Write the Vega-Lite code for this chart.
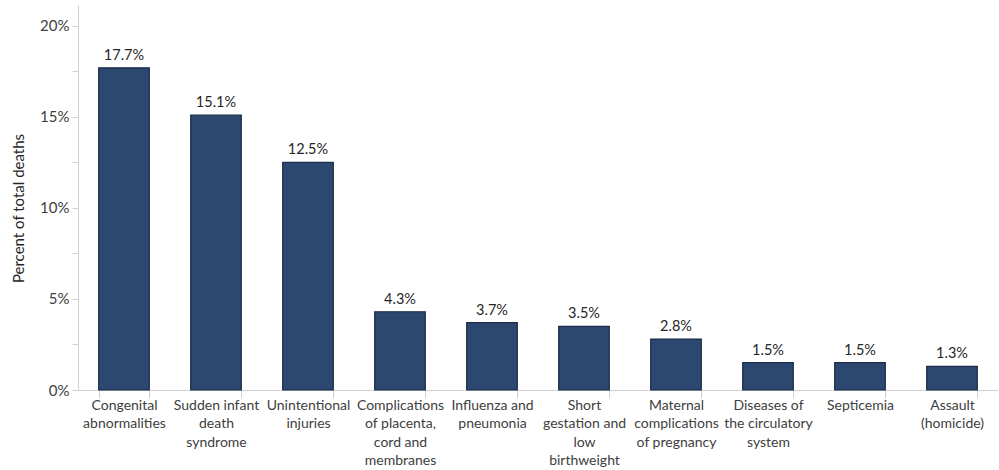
{
  "$schema": "https://vega.github.io/schema/vega-lite/v6.json",
  "autosize": "none",
  "width": 920,
  "height": 385,
  "padding": {"left": 78, "top": 5, "right": 1, "bottom": 80},
  "background": "white",
  "config": {
    "view": {"stroke": null},
    "font": "Lato",
    "axis": {"labelFont": "Lato", "titleFont": "Lato", "labelColor": "#404040", "titleColor": "#262626", "grid": false}
  },
  "data": {
    "values": [
      {"cause": "Congenital|abnormalities", "pct": 0.177},
      {"cause": "Sudden infant|death|syndrome", "pct": 0.151},
      {"cause": "Unintentional|injuries", "pct": 0.125},
      {"cause": "Complications|of placenta,|cord and|membranes", "pct": 0.043},
      {"cause": "Influenza and|pneumonia", "pct": 0.037},
      {"cause": "Short|gestation and|low|birthweight", "pct": 0.035},
      {"cause": "Maternal|complications|of pregnancy", "pct": 0.028},
      {"cause": "Diseases of|the circulatory|system", "pct": 0.015},
      {"cause": "Septicemia", "pct": 0.015},
      {"cause": "Assault|(homicide)", "pct": 0.013}
    ]
  },
  "encoding": {
    "x": {
      "field": "cause",
      "type": "nominal",
      "sort": null,
      "scale": {"paddingInner": 0.45, "paddingOuter": 0.225},
      "axis": {
        "title": null,
        "labelAngle": 0,
        "labelExpr": "isString(datum.value) ? split(datum.value, '|') : ''",
        "labelFontSize": 14,
        "labelLineHeight": 18.5,
        "labelPadding": 0,
        "labelBaseline": "top",
        "tickBand": "extent",
        "tickSize": 8,
        "tickColor": "#d0d0d0",
        "domainColor": "#d0d0d0",
        "labelLimit": 200
      }
    },
    "y": {
      "field": "pct",
      "type": "quantitative",
      "scale": {"domain": [0, 0.2115], "nice": false},
      "axis": {
        "title": "Percent of total deaths",
        "titleFontSize": 15,
        "titleFontWeight": "normal",
        "titleAngle": -90,
        "titleAlign": "center",
        "titleBaseline": "middle",
        "titleX": -60,
        "titleY": 203,
        "values": [0, 0.025, 0.05, 0.075, 0.1, 0.125, 0.15, 0.175, 0.2],
        "format": ".0%",
        "labelExpr": "round(datum.value * 1000) % 50 === 0 ? datum.label : ''",
        "labelFontSize": 15,
        "labelPadding": 3,
        "tickSize": 6,
        "tickColor": "#d0d0d0",
        "domainColor": "#d0d0d0"
      }
    }
  },
  "layer": [
    {
      "mark": {"type": "bar", "color": "#2c4770", "stroke": "#1b2d48", "strokeWidth": 1.2}
    },
    {
      "mark": {"type": "text", "baseline": "bottom", "dy": -5, "fontSize": 14.5, "color": "#262626", "font": "Lato"},
      "encoding": {
        "text": {"field": "pct", "type": "quantitative", "format": ".1%"}
      }
    }
  ]
}
